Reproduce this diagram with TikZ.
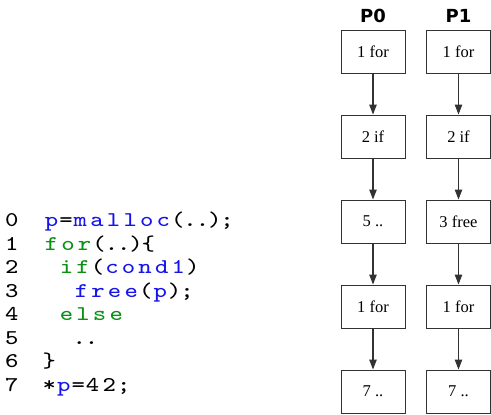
\documentclass[tikz,border=0pt]{standalone}
\usepackage{fontspec}
\usetikzlibrary{arrows.meta}
\newfontfamily\codefont{lmmono8-regular.otf}[FakeStretch=1.2]
\newfontfamily\boxfont{Liberation Serif}
\newfontfamily\headfont{DejaVu Sans Bold}
\definecolor{codeblue}{RGB}{20,20,235}
\definecolor{codegreen}{RGB}{10,145,20}
\definecolor{boxgray}{RGB}{50,50,50}
% letters in wide cells, punctuation in narrow cells
\newcommand{\lrun}[1]{\lloop#1\relax}
\def\lloop#1{\ifx\relax#1\else\makebox[16.6pt]{#1}\expandafter\lloop\fi}
\newcommand{\prun}[1]{\ploop#1\relax}
\def\ploop#1{\ifx\relax#1\else\makebox[12.3pt]{#1}\expandafter\ploop\fi}
\newcommand{\kw}[1]{\textcolor{codeblue}{\lrun{#1}}}
\newcommand{\ctl}[1]{\textcolor{codegreen}{\lrun{#1}}}

\begin{document}
\begin{tikzpicture}[x=1pt,y=-1pt,
  every node/.style={inner sep=0pt},
  codeline/.style={anchor=base west,font=\codefont\fontsize{21}{21}\selectfont},
  stepbox/.style={draw=boxgray,line width=1pt,minimum width=64pt,minimum height=43pt,
    font=\boxfont\fontsize{16.5}{16.5}\selectfont},
  head/.style={anchor=base,font=\headfont\fontsize{18}{18}\selectfont},
  flow/.style={draw=boxgray,line width=1.1pt,-{Triangle[length=10pt,width=7.5pt]}}]
\useasboundingbox (0,0) rectangle (491,415);
% code with line numbers
\node[codeline] (n0) at (5,226.7) {0};
\node[codeline] (n1) at (5,250.2) {1};
\node[codeline] (n2) at (5,273.7) {2};
\node[codeline] (n3) at (5,297.2) {3};
\node[codeline] (n4) at (5,320.7) {4};
\node[codeline] (n5) at (5,344.2) {5};
\node[codeline] (n6) at (5,367.7) {6};
\node[codeline] (n7) at (5,391.2) {7};
\node[codeline] (c0) at (43,226.7) {\kw{p}\prun{=}\kw{malloc}\prun{(..);}};
\node[codeline] (c1) at (43,250.2) {\ctl{for}\prun{(..)\{}};
\node[codeline] (c2) at (58,273.7) {\ctl{if}\prun{(}\kw{cond1}\prun{)}};
\node[codeline] (c3) at (73,297.2) {\kw{free}\prun{(}\kw{p}\prun{);}};
\node[codeline] (c4) at (58,320.7) {\ctl{else}};
\node[codeline] (c5) at (73,344.2) {\prun{..}};
\node[codeline] (c6) at (43,367.7) {\prun{\}}};
\node[codeline] (c7) at (43,391.2) {\prun{*}\kw{p}\prun{=}\lrun{42}\prun{;}};
% process P0
\node[head] (hp0) at (373,23) {P0};
\node[stepbox] (a1) at (373,51.5) {1 for};
\node[stepbox] (a2) at (373,136.5) {2 if};
\node[stepbox] (a3) at (373,221.5) {5 ..};
\node[stepbox] (a4) at (373,306.5) {1 for};
\node[stepbox] (a5) at (373,391.5) {7 ..};
\draw[flow] (a1) -- (a2);
\draw[flow] (a2) -- (a3);
\draw[flow] (a3) -- (a4);
\draw[flow] (a4) -- (a5);
% process P1
\node[head] (hp1) at (458.5,23) {P1};
\node[stepbox] (b1) at (458.5,51.5) {1 for};
\node[stepbox] (b2) at (458.5,136.5) {2 if};
\node[stepbox] (b3) at (458.5,221.5) {3 free};
\node[stepbox] (b4) at (458.5,306.5) {1 for};
\node[stepbox] (b5) at (458.5,391.5) {7 ..};
\draw[flow] (b1) -- (b2);
\draw[flow] (b2) -- (b3);
\draw[flow] (b3) -- (b4);
\draw[flow] (b4) -- (b5);
\end{tikzpicture}
\end{document}
